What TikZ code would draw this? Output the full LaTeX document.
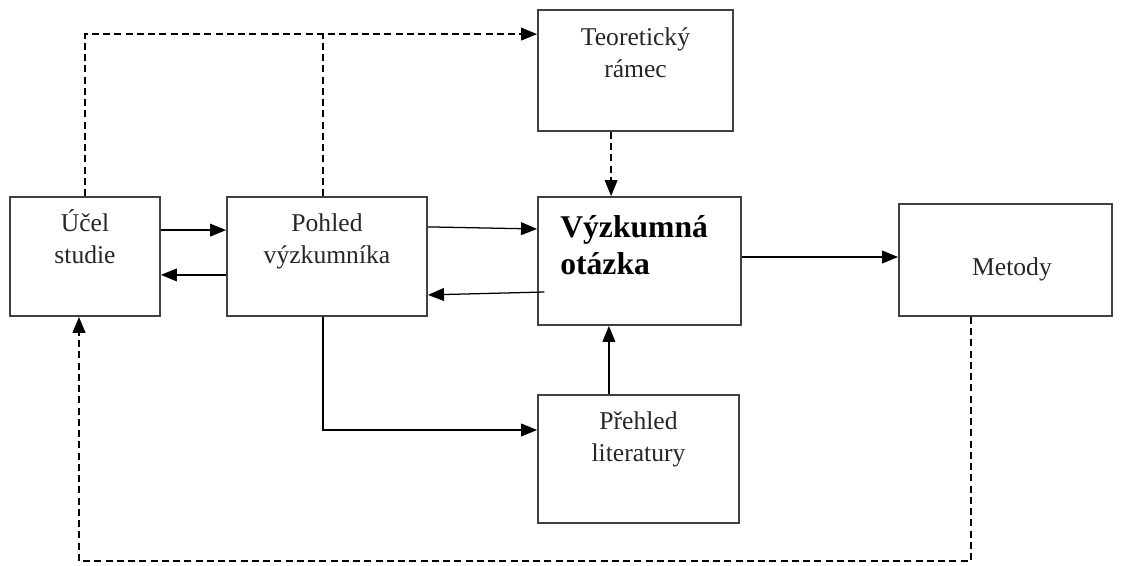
\documentclass[tikz,border=0pt]{standalone}
\usepackage{fontspec}
\setmainfont{Liberation Serif}
\usetikzlibrary{arrows.meta,calc}
\tikzset{
  box/.style={draw=black!75,line width=1.3pt,rectangle},
  txt/.style={inner sep=0pt,align=center,text=black!85,font=\fontsize{18.2}{22.5}\selectfont},
  bigtxt/.style={inner sep=0pt,align=left,anchor=west,font=\fontsize{22.5}{27}\selectfont\bfseries},
  link/.style={line width=0.9pt,-{Triangle[length=0.4cm,width=0.32cm]}},
  dlink/.style={link,dash pattern=on 5pt off 3pt},
}
\begin{document}
\begin{tikzpicture}[x=0.025cm,y=-0.025cm]
        \useasboundingbox (0,0) rectangle (1122,565);
        %% Boxes
        \node[box,minimum width=3.75cm,minimum height=2.975cm] (ucel) at (85,256.5) {};
        \node[box,minimum width=5cm,minimum height=2.975cm] (pohled) at (327,256.5) {};
        \node[box,minimum width=4.875cm,minimum height=3.025cm] (teor) at (635.5,70.5) {};
        \node[box,minimum width=5.075cm,minimum height=3.2cm] (vyzk) at (639.5,261) {};
        \node[box,minimum width=5.325cm,minimum height=2.8cm] (metody) at (1005.5,260) {};
        \node[box,minimum width=5.025cm,minimum height=3.2cm] (prehled) at (638.5,459) {};
        %% Texts
        \node[txt] (ucel-t) at (85,241) {\strut Účel\\\strut studie};
        \node[txt] (pohled-t) at (327,241) {\strut Pohled\\\strut výzkumníka};
        \node[txt] (teor-t) at (635.5,55) {\strut Teoretický\\\strut rámec};
        \node[bigtxt] (vyzk-t) at (560,248.4) {\strut Výzkumná\\\strut otázka};
        \node[txt] (metody-t) at (1012,269) {\strut Metody};
        \node[txt] (prehled-t) at (638.5,439) {\strut Přehled\\\strut literatury};
        %% Dashed links
        \coordinate (ttop) at ([yshift=0.91cm]teor.west);
        \draw[dlink] (ucel.north) |- (ttop);
        \draw[dlink,-] ([xshift=-0.1cm]pohled.north) -- ([xshift=-0.1cm]pohled.north |- ttop);
        \draw[dlink] ([xshift=-0.61cm]teor.south) -- ([xshift=-0.61cm]teor.south |- vyzk.north);
        \draw[dlink,line width=1.2pt] ([xshift=-0.86cm]metody.south) -- ++(0,244) -| ([xshift=-0.15cm]ucel.south);
        %% Solid links
        \draw[link] ([yshift=0.66cm]ucel.east) -- ([yshift=0.66cm]ucel.east -| pohled.west);
        \draw[link] ([yshift=-0.46cm]pohled.west) -- ([yshift=-0.46cm]pohled.west -| ucel.east);
        \draw[link] ([yshift=0.74cm]pohled.east) -- ([yshift=0.8cm]vyzk.west);
        \draw[link] ([xshift=0.18cm,yshift=-0.775cm]vyzk.west) -- ([yshift=-0.96cm]pohled.east);
        \draw[link] ([yshift=0.1cm]vyzk.east) -- ([yshift=0.1cm]vyzk.east -| metody.west);
        \draw[link] ([xshift=-0.74cm]prehled.north) -- ([xshift=-0.74cm]prehled.north |- vyzk.south);
        \draw[link] ([xshift=-0.1cm]pohled.south) |- ([yshift=0.725cm]prehled.west);
\end{tikzpicture}
\end{document}
